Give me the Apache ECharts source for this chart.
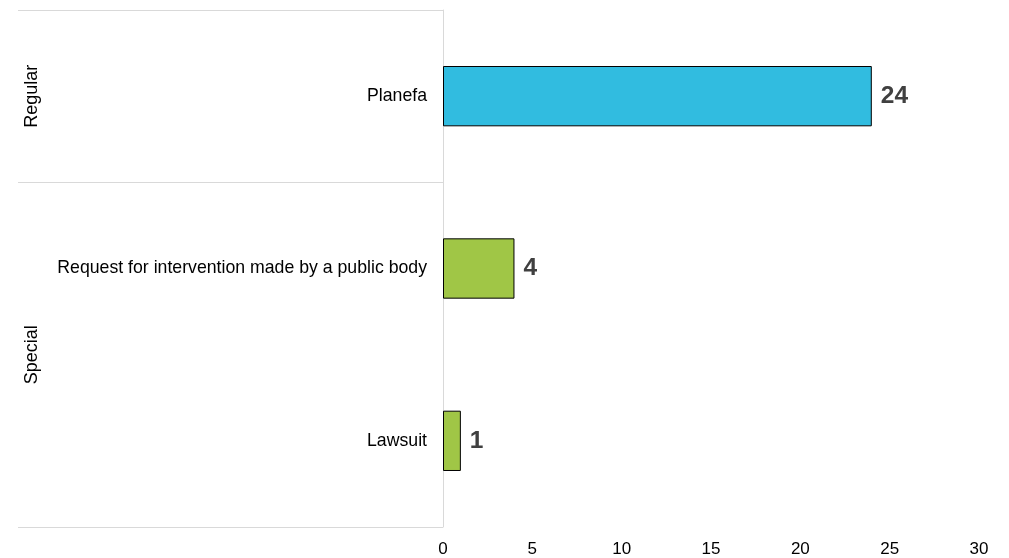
<!DOCTYPE html>
<html><head><meta charset="utf-8">
<script src="https://cdn.jsdelivr.net/npm/echarts@6/dist/echarts.min.js"></script>
<style>html,body{margin:0;padding:0;background:#fff}#c{width:1009px;height:558px}</style>
</head><body><div id="c"></div>
<script>
const categories = ['Planefa', 'Request for intervention made by a public body', 'Lawsuit'];
const values = [24, 4, 1];
const groups = ['Regular', 'Special', 'Special'];
const groupNames = ['Regular', 'Special'];
const groupSpans = [[0, 1], [1, 3]];
const xTicks = [0, 5, 10, 15, 20, 25, 30];

const groupColors = { Regular: '#31BCE0', Special: '#A0C646' };
const font = 'Liberation Sans, Arial, sans-serif';

const chart = echarts.init(document.getElementById('c'), null, { renderer: 'canvas' });
chart.setOption({
  animation: false,
  backgroundColor: '#fff',
  grid: { left: 443, right: 30, top: 10, bottom: 30, containLabel: false },
  xAxis: {
    type: 'value', min: xTicks[0], max: xTicks[xTicks.length - 1], interval: 5,
    axisLine: { show: false }, axisTick: { show: false }, splitLine: { show: false },
    axisLabel: { color: '#000', fontSize: 17, fontFamily: font, margin: 14 }
  },
  yAxis: [{
    type: 'category', data: categories, inverse: true,
    axisLine: { show: true, lineStyle: { color: '#d9d9d9', width: 1 } },
    axisTick: { show: false },
    axisLabel: { color: '#000', fontSize: 17.7, fontFamily: font, margin: 16 }
  }, {
    type: 'value', min: 0, max: 3, inverse: true, position: 'left',
    axisLine: { show: false },
    splitLine: { show: false },
    axisTick: { show: true, customValues: [groupSpans[0][0], groupSpans[0][1], groupSpans[1][1]], length: 425, lineStyle: { color: '#d9d9d9', width: 1 } },
    axisLabel: {
      show: true, customValues: groupSpans.map(s => (s[0] + s[1]) / 2),
      formatter: v => { const i = groupSpans.findIndex(s => (s[0] + s[1]) / 2 === v); return i >= 0 ? groupNames[i] : ''; },
      rotate: 90, margin: 402, color: '#000', fontSize: 18, fontFamily: font
    }
  }],
  series: [{
    type: 'bar', yAxisIndex: 0, barWidth: '35%',
    data: values.map((v, i) => ({ value: v, itemStyle: { color: groupColors[groups[i]] } })),
    itemStyle: { borderColor: '#000', borderWidth: 1 },
    label: { show: true, position: 'right', distance: 9, color: '#404040', fontSize: 24.5, fontWeight: 'bold', fontFamily: font }
  }]
});
</script></body></html>
